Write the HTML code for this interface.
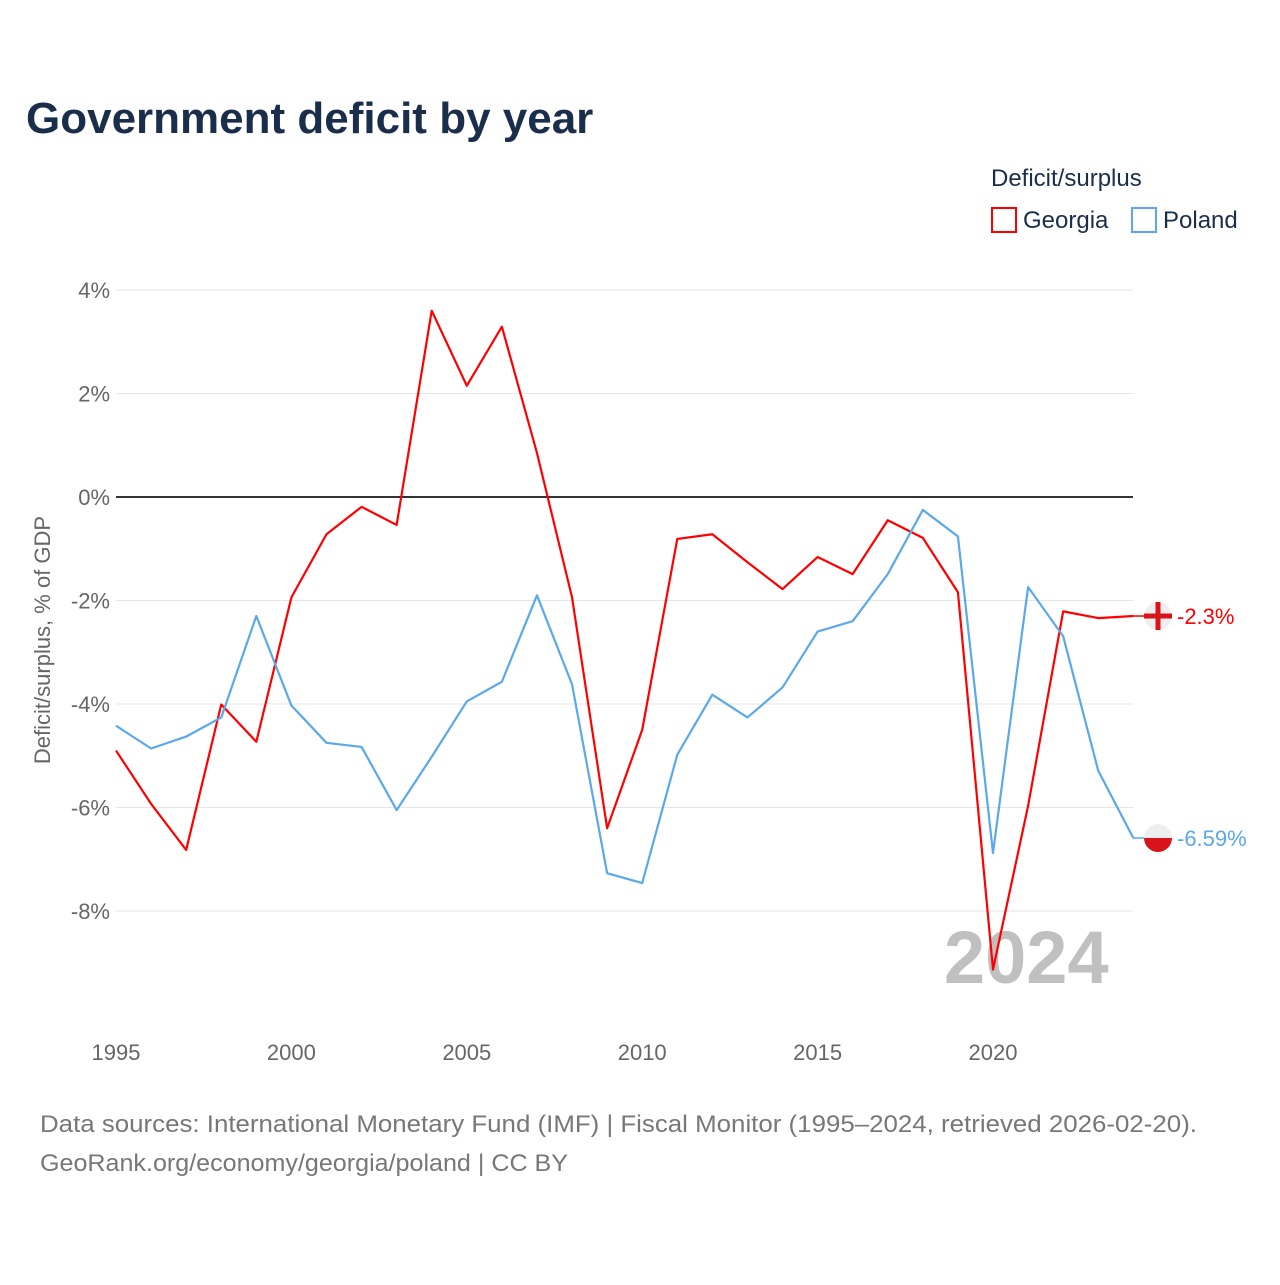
<!DOCTYPE html>
<html><head><meta charset="utf-8">
<style>
body{margin:0;background:#fff;font-family:"Liberation Sans",sans-serif;}
svg text{font-family:"Liberation Sans",sans-serif;}
</style></head>
<body>
<svg width="1280" height="1280" xmlns="http://www.w3.org/2000/svg">
<text x="26" y="133" font-size="44" font-weight="bold" fill="#1a2e4c">Government deficit by year</text>
<text x="991" y="186" font-size="24" fill="#1a2e4c">Deficit/surplus</text>
<g>
<rect x="992" y="208" width="24" height="24" fill="none" stroke="#ff0000" stroke-width="2"/>
<text x="1023" y="228" font-size="24" fill="#1a2e4c">Georgia</text></g>
<g>
<rect x="1132" y="208" width="24" height="24" fill="none" stroke="#5ba8ea" stroke-width="2"/>
<text x="1163" y="228" font-size="24" fill="#1a2e4c">Poland</text></g>
<g id="grid"></g>
<g id="xt"></g>
<text x="944" y="983" font-size="74" font-weight="bold" fill="#c0c0c0">2024</text>
<text transform="translate(50,640) rotate(-90)" text-anchor="middle" font-size="22" fill="#666">Deficit/surplus, % of GDP</text>
<g id="series"></g>
<text x="40" y="1132" font-size="24" fill="#777" textLength="1157" lengthAdjust="spacingAndGlyphs">Data sources: International Monetary Fund (IMF) | Fiscal Monitor (1995–2024, retrieved 2026-02-20).</text>
<text x="40" y="1171" font-size="24" fill="#777" textLength="528" lengthAdjust="spacingAndGlyphs">GeoRank.org/economy/georgia/poland | CC BY</text>
</svg>
<script>
const years=[1995,1996,1997,1998,1999,2000,2001,2002,2003,2004,2005,2006,2007,2008,2009,2010,2011,2012,2013,2014,2015,2016,2017,2018,2019,2020,2021,2022,2023,2024];
const georgia=[-4.9,-5.93,-6.82,-4.01,-4.73,-1.94,-0.72,-0.19,-0.54,3.6,2.15,3.29,0.85,-1.94,-6.4,-4.5,-0.81,-0.72,-1.26,-1.78,-1.16,-1.49,-0.45,-0.79,-1.84,-9.13,-5.97,-2.21,-2.34,-2.3];
const poland=[-4.42,-4.86,-4.63,-4.26,-2.3,-4.03,-4.75,-4.83,-6.05,-5.02,-3.95,-3.57,-1.9,-3.62,-7.27,-7.46,-4.98,-3.82,-4.26,-3.68,-2.6,-2.4,-1.49,-0.25,-0.76,-6.88,-1.74,-2.69,-5.29,-6.59];
const yTicks=[4,2,0,-2,-4,-6,-8];
const xTicks=[1995,2000,2005,2010,2015,2020];
const X=y=>116+(y-1995)*35.08;
const Y=v=>497-v*51.75;
const NS="http://www.w3.org/2000/svg";
function mk(t,a,p){const e=document.createElementNS(NS,t);for(const k in a)e.setAttribute(k,a[k]);p.appendChild(e);return e;}
const grid=document.getElementById('grid');
yTicks.forEach(v=>{
 const l=mk('line',{x1:116,x2:1133,y1:Y(v),y2:Y(v),stroke:v===0?'#333':'#e6e6e6','stroke-width':v===0?2:1},grid);
 
 
 const t=mk('text',{x:110,y:Y(v)+8,'text-anchor':'end','font-size':22,fill:'#666'},grid);
 t.textContent=v+'%';
 
 
});
const xt=document.getElementById('xt');
xTicks.forEach(v=>{
 const t=mk('text',{x:X(v),y:1060,'text-anchor':'middle','font-size':22,fill:'#666'},xt);
 t.textContent=v;
 
 
});
const s=document.getElementById('series');
function line(vals,color,name){
 const p=mk('polyline',{points:vals.map((v,i)=>X(years[i])+','+Y(v)).join(' '),fill:'none',stroke:color,'stroke-width':2.2,'stroke-linejoin':'round'},s);
 
 
 const last=vals[vals.length-1];
 const ln=mk('line',{x1:1133,x2:1145,y1:Y(last),y2:Y(last),stroke:color,'stroke-width':1.5},s);
 
 
}
line(georgia,'#ff0000','georgia-line');
line(poland,'#5ba8ea','poland-line');
const gy=Y(georgia[georgia.length-1]);
const gf=mk('g',{},s);


mk('circle',{cx:1158,cy:gy,r:14,fill:'#eee'},gf);
mk('rect',{x:1144,y:gy-2.5,width:28,height:5,fill:'#d7141a'},gf);
mk('rect',{x:1155.5,y:gy-14,width:5,height:28,fill:'#d7141a'},gf);
const gl=mk('text',{x:1177,y:gy+8,'font-size':22,fill:'#ff0000'},s);
gl.textContent=georgia[georgia.length-1]+'%';


const py=Y(poland[poland.length-1]);
const pf=mk('g',{},s);


mk('path',{d:`M1144 ${py} A14 14 0 0 1 1172 ${py} Z`,fill:'#eee'},pf);
mk('path',{d:`M1144 ${py} A14 14 0 0 0 1172 ${py} Z`,fill:'#d7141a'},pf);
const pl=mk('text',{x:1177,y:py+8,'font-size':22,fill:'#5ba8ea'},s);
pl.textContent=poland[poland.length-1]+'%';


</script>
</body></html>
